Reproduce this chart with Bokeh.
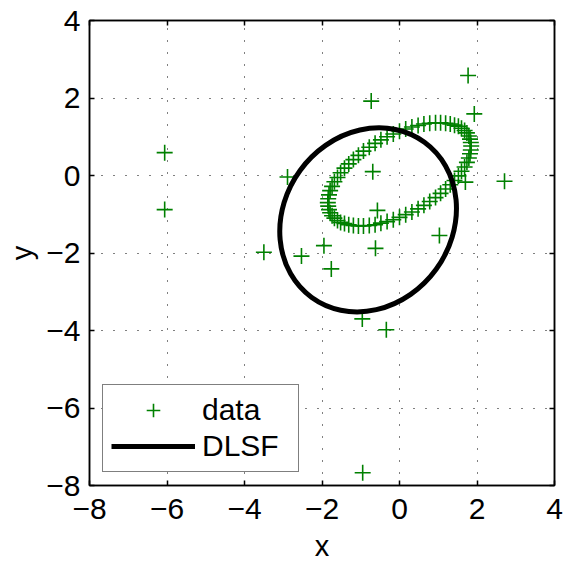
from bokeh.plotting import figure
from bokeh.models import (Range1d, FixedTicker, LinearAxis, Legend, LegendItem,
                          ColumnDataSource)
from bokeh.embed import file_html
from bokeh.resources import INLINE

# ---- data ----
tick_values = [-8, -6, -4, -2, 0, 2, 4]
tick_labels = ["\u22128", "\u22126", "\u22124", "\u22122", "0", "2", "4"]

# points lying on the tilted ring
ring_x = [1.85, 1.84, 1.82, 1.79, 1.74, 1.68, 1.60, 1.52, 1.42, 1.31, 1.19, 1.06,
          0.93, 0.78, 0.63, 0.48, 0.32, 0.16, 0.00, -0.16, -0.32, -0.48, -0.63, -0.78,
          -0.93, -1.06, -1.19, -1.31, -1.42, -1.52, -1.60, -1.68, -1.74, -1.79, -1.82, -1.84,
          -1.85, -1.84, -1.82, -1.79, -1.74, -1.68, -1.60, -1.52, -1.42, -1.31, -1.19, -1.06,
          -0.93, -0.78, -0.63, -0.48, -0.32, -0.16, 0.00, 0.16, 0.32, 0.48, 0.63, 0.78,
          0.93, 1.06, 1.19, 1.31, 1.42, 1.52, 1.60, 1.68, 1.74, 1.79, 1.82, 1.84]
ring_y = [0.76, 0.85, 0.94, 1.02, 1.10, 1.16, 1.22, 1.27, 1.30, 1.33, 1.35, 1.36,
          1.36, 1.35, 1.33, 1.29, 1.25, 1.20, 1.14, 1.07, 1.00, 0.92, 0.83, 0.73,
          0.63, 0.52, 0.41, 0.30, 0.19, 0.07, -0.05, -0.16, -0.28, -0.39, -0.50, -0.60,
          -0.70, -0.79, -0.88, -0.96, -1.04, -1.10, -1.16, -1.21, -1.24, -1.27, -1.29, -1.30,
          -1.30, -1.29, -1.27, -1.23, -1.19, -1.14, -1.08, -1.01, -0.94, -0.86, -0.77, -0.67,
          -0.57, -0.46, -0.35, -0.24, -0.13, -0.01, 0.11, 0.22, 0.34, 0.45, 0.56, 0.66]

# scattered outliers
outlier_x = [-6.06, -6.06, -2.89, -3.50, -2.53, -1.95, -1.76, -0.96, -0.34, -0.95,
             -0.62, 1.77, -0.73, 1.93, 2.71, -0.69, -0.57, 1.03, 1.70]
outlier_y = [0.59, -0.88, -0.04, -1.98, -2.08, -1.81, -2.41, -3.70, -3.98, -7.67,
             -1.88, 2.58, 1.92, 1.59, -0.15, 0.10, -0.90, -1.55, -0.17]

# fitted ellipse (DLSF)
fit_cx = [-0.81]
fit_cy = [-1.145]
fit_w = [4.95]
fit_h = [4.34]
fit_angle_deg = [54.0]

FONT = "Liberation Sans"

data_src = ColumnDataSource(dict(x=ring_x + outlier_x, y=ring_y + outlier_y))
fit_src = ColumnDataSource(dict(x=fit_cx, y=fit_cy, w=fit_w, h=fit_h,
                                a=[d * 3.141592653589793 / 180 for d in fit_angle_deg]))

p = figure(frame_width=465, frame_height=465,
           min_border_left=89, min_border_right=13, min_border_top=20, min_border_bottom=77,
           x_range=Range1d(-8, 4), y_range=Range1d(-8, 4),
           output_backend="svg", toolbar_location=None,
           background_fill_color="white", border_fill_color="white")

p.outline_line_color = "black"
p.outline_line_width = 1.5

for g in (p.xgrid[0], p.ygrid[0]):
    g.ticker = FixedTicker(ticks=tick_values)
    g.grid_line_color = "black"
    g.grid_line_dash = "1 11"
    g.grid_line_width = 1
    g.grid_line_alpha = 1.0

for ax in (p.xaxis[0], p.yaxis[0]):
    ax.ticker = FixedTicker(ticks=tick_values)
    ax.major_label_overrides = dict(zip(tick_values, tick_labels))
    ax.major_tick_in = 5
    ax.major_tick_out = 0
    ax.minor_tick_in = 0
    ax.minor_tick_out = 0
    ax.axis_line_width = 1.5
    ax.major_tick_line_width = 1.5
    ax.major_label_text_font = FONT
    ax.major_label_text_font_size = "30px"
    ax.major_label_text_color = "black"
    ax.axis_label_text_font = FONT
    ax.axis_label_text_font_size = "29px"
    ax.axis_label_text_font_style = "normal"
    ax.axis_label_text_color = "black"

p.xaxis[0].axis_label = "x"
p.yaxis[0].axis_label = "y"
p.xaxis[0].major_label_standoff = 13
p.yaxis[0].major_label_standoff = 9
p.xaxis[0].axis_label_standoff = 8
p.yaxis[0].axis_label_standoff = 5

for loc in ("above", "right"):
    ax = LinearAxis(ticker=FixedTicker(ticks=tick_values),
                    major_label_overrides={v: "" for v in tick_values},
                    major_tick_in=5, major_tick_out=0, minor_tick_in=0, minor_tick_out=0,
                    axis_line_width=1.5, major_tick_line_width=1.5,
                    major_label_standoff=0)
    p.add_layout(ax, loc)

r_data = p.scatter("x", "y", source=data_src, marker="cross", size=16,
                   line_color="#008000", line_width=1.6)
p.ellipse(x="x", y="y", width="w", height="h", angle="a", source=fit_src,
          fill_color=None, line_color="black", line_width=5)
# legend-only stand-in for the fitted curve (one NaN point draws nothing in the plot)
r_line = p.line(x=[float("nan")], y=[float("nan")], line_color="black", line_width=5)

legend = Legend(items=[LegendItem(label="data", renderers=[r_data]),
                       LegendItem(label="DLSF", renderers=[r_line])],
                location="bottom_left", margin=13, padding=8, spacing=2,
                glyph_width=84, glyph_height=34, label_standoff=7, label_width=88,
                border_line_color="black", border_line_width=1,
                background_fill_color="white", background_fill_alpha=1.0,
                label_text_font=FONT, label_text_font_size="30px", label_text_color="black")
p.add_layout(legend)

open("out.html", "w").write(file_html(p, INLINE))
